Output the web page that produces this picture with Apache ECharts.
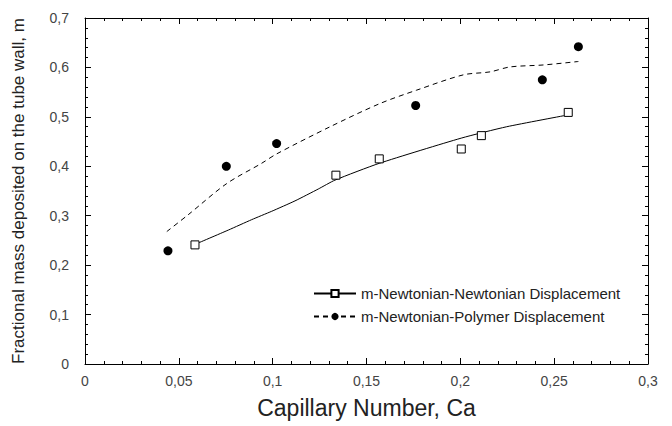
<!DOCTYPE html>
<html>
<head>
<meta charset="utf-8">
<script src="https://cdn.jsdelivr.net/npm/echarts@6/dist/echarts.min.js"></script>
<style>
html,body{margin:0;padding:0;background:#fff;}
#chart{width:672px;height:426px;}
</style>
</head>
<body>
<div id="chart"></div>
<script>
// Measured data points
const caNewtonian = [0.0586, 0.1337, 0.1568, 0.2005, 0.2112, 0.2575];
const mNewtonian  = [0.241, 0.382, 0.415, 0.435, 0.462, 0.509];
const caPolymer   = [0.0442, 0.0753, 0.1021, 0.1762, 0.2437, 0.2629];
const mPolymer    = [0.229, 0.400, 0.446, 0.523, 0.575, 0.642];
// Fitted curves
const fitNewtonianCa = [0.0586, 0.0764, 0.0888, 0.0995, 0.1119, 0.1243, 0.1332, 0.1568, 0.2005, 0.2247, 0.2575];
const fitNewtonianM  = [0.242, 0.271, 0.292, 0.309, 0.330, 0.354, 0.372, 0.406, 0.457, 0.480, 0.504];
const fitPolymerCa   = [0.0436, 0.0550, 0.0755, 0.0941, 0.1021, 0.1306, 0.1572, 0.1767, 0.2016, 0.2158, 0.2265, 0.2443, 0.2629];
const fitPolymerM    = [0.268, 0.302, 0.365, 0.406, 0.425, 0.480, 0.527, 0.554, 0.585, 0.591, 0.601, 0.605, 0.612];
// Axis
const xMin = 0, xMax = 0.3, xStep = 0.05;
const yMin = 0, yMax = 0.7, yStep = 0.1;
const nameNN = 'm-Newtonian-Newtonian Displacement';
const namePN = 'm-Newtonian-Polymer Displacement';
const xTitle = 'Capillary Number, Ca';
const yTitle = 'Fractional mass deposited on the tube wall, m';

const zip = (a, b) => a.map((v, i) => [v, b[i]]);
const fmt = v => (Math.round(v * 1000) / 1000).toString().replace('.', ',');
const FONT = 'Liberation Sans';

function axisBase(extra) {
  return Object.assign({
    type: 'value',
    axisLine: {show: true, onZero: false, lineStyle: {color: '#000', width: 1}},
    axisTick: {show: true, inside: true, length: 6, lineStyle: {color: '#000', width: 1}},
    minorTick: {show: true, splitNumber: 5, length: 3, lineStyle: {color: '#000', width: 1}},
    splitLine: {show: false},
    minorSplitLine: {show: false}
  }, extra);
}

const chart = echarts.init(document.getElementById('chart'), null, {renderer: 'svg'});
chart.setOption({
  backgroundColor: '#fff',
  animation: false,
  grid: {left: 85, right: 24, top: 18, bottom: 62},
  xAxis: [
    axisBase({
      min: xMin, max: xMax, interval: xStep, position: 'bottom',
      name: xTitle, nameLocation: 'middle', nameGap: 32,
      nameTextStyle: {fontFamily: FONT, fontSize: 23, color: '#222'},
      axisLabel: {fontFamily: FONT, fontSize: 14, color: '#444', margin: 10, formatter: fmt}
    }),
    axisBase({
      min: xMin, max: xMax, interval: xStep, position: 'top',
      axisLabel: {show: false}
    })
  ],
  yAxis: [
    axisBase({
      min: yMin, max: yMax, interval: yStep, position: 'left',
      name: yTitle, nameLocation: 'middle', nameGap: 58, nameRotate: 90,
      nameTextStyle: {fontFamily: FONT, fontSize: 17, color: '#222'},
      axisLabel: {fontFamily: FONT, fontSize: 14, color: '#444', margin: 16, formatter: fmt}
    }),
    axisBase({
      min: yMin, max: yMax, interval: yStep, position: 'right',
      axisLabel: {show: false}
    })
  ],
  legend: {
    data: [nameNN, namePN],
    orient: 'vertical',
    left: 313, top: 286, padding: 0,
    itemWidth: 42, itemHeight: 9, itemGap: 8,
    textStyle: {fontFamily: FONT, fontSize: 15, color: '#222'},
    backgroundColor: 'transparent'
  },
  series: [
    {
      name: nameNN, type: 'line', smooth: 0.2,
      data: zip(fitNewtonianCa, fitNewtonianM),
      symbol: 'rect', symbolSize: 8, showSymbol: false,
      lineStyle: {color: '#000', width: 1, type: 'solid'},
      itemStyle: {color: '#fff', borderColor: '#000', borderWidth: 1},
      z: 2
    },
    {
      name: namePN, type: 'line', smooth: 0.3,
      data: zip(fitPolymerCa, fitPolymerM),
      symbol: 'circle', symbolSize: 9, showSymbol: false,
      lineStyle: {color: '#000', width: 1, type: [5, 4]},
      itemStyle: {color: '#000'},
      z: 2
    },
    {
      name: 'NN data', type: 'scatter',
      data: zip(caNewtonian, mNewtonian),
      symbol: 'rect', symbolSize: 8,
      itemStyle: {color: '#fff', borderColor: '#000', borderWidth: 1, opacity: 1},
      z: 3
    },
    {
      name: 'PN data', type: 'scatter',
      data: zip(caPolymer, mPolymer),
      symbol: 'circle', symbolSize: 9,
      itemStyle: {color: '#000', opacity: 1},
      z: 3
    }
  ]
});
</script>
</body>
</html>
